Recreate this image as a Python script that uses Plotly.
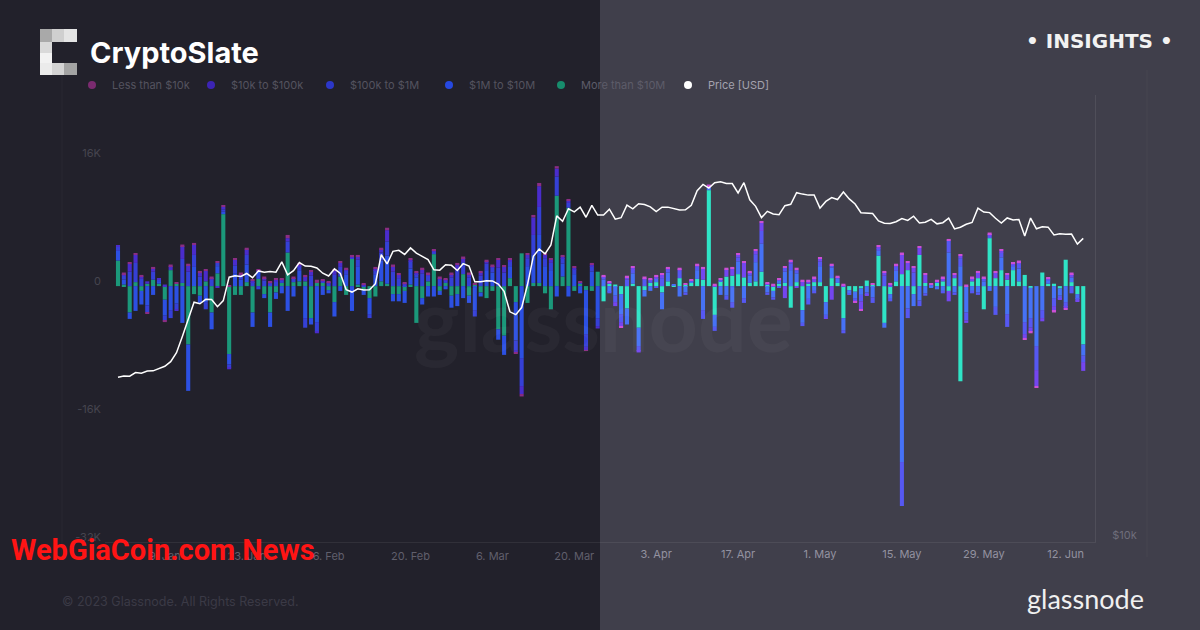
import plotly.graph_objects as go
import pandas as pd

# ---------------- data ----------------
start_date = "2023-01-01"
n_days = 166

# net position change by cohort, thousands of BTC (one value per day)
gt10m = [3.2, 0.2, -3.3, 0.5, -0.6, 0.3, 0.8, 0.3, -1.7, 2.0, 0.3, 0.4, -7.3, -1.0, -1.2, 0.6, -3.3, 1.6, 9.0, -8.5,
         -1.1, -1.1, 0.5, -3.3, 0.9, -1.0, -3.3, -0.8, 0.4, 4.2, 0.5, 0.6, 0.6, -4.0, 0.4, 0.4, -0.5, -2.0, 1.2, -1.1,
         3.4, 0.2, -0.5, -1.5, -1.3, 0.6, 0.3, -1.0, -1.0, -0.6, 0.2, -4.6, -1.5, 0.6, 4.0, -0.6, 0.4, -1.2, -1.0, 1.5,
         -1.2, 0.2, -0.8, -1.5, -0.6, -5.4, -6.2, 1.0, -2.0, 4.1, -2.1, 0.4, 0.4, -0.9, -2.9, 11.3, 1.2, 9.8, -0.6, 0.3,
         -0.5, -0.6, 1.8, -1.9, 0.3, 0.2, -1.0, -2.8, 0.3, -5.2, -0.5, 0.4, 0.5, -0.8, 0.6, 0.1, 1.0, 0.2, 0.4, 0.9,
         0.8, 12.0, -3.6, 0.6, 1.2, 1.3, 1.5, 1.1, 0.4, 0.6, 1.8, 0.2, -0.6, 0.3, 0.4, -2.7, 0.5, -3.0, 0.3, 0.5,
         0.5, -2.0, 1.0, 0.4, -4.0, -0.5, -0.7, -0.3, 0.7, 0.2, 3.8, -4.6, -1.0, 0.6, 1.5, 2.0, -1.0, 3.9, 0.4, 0.1,
         0.4, 0.6, -0.6, 1.0, -11.9, 0.0, 0.6, 1.0, -2.9, 6.0, 1.0, 2.0, 0.8, 2.0, 0.6, 1.4, -0.2, 0.0, 1.7, 0.3,
         0.3, -0.3, 3.3, 0.5, -1.0, -7.3]
m1_10m = [1.2, 0.6, -0.8, -3.1, -1.7, -2.4, -1.1, 0.3, -2.0, -3.0, -2.2, -4.6, -5.8, 2.4, -0.9, -2.0, -2.1, 0.9, 0.3, -1.3,
          1.6, 0.8, 2.2, -1.8, 0.9, -0.5, -1.8, -0.8, -0.9, -3.1, -1.3, 1.3, -4.0, -0.8, -4.5, -1.1, -0.4, -1.8, -0.6, 1.4,
          -3.1, 2.2, -0.6, -2.0, 1.4, 2.6, 3.5, -0.9, -0.9, -1.5, 2.0, 1.1, -0.8, -1.3, -1.3, -0.5, -0.4, -1.5, -1.5, -1.5,
          -0.9, -3.0, -0.5, 2.0, 1.7, -1.3, -2.4, 1.5, -4.8, -9.0, 2.5, 3.5, 6.0, 2.5, 2.0, -1.3, 1.6, -1.3, 1.5, -0.9,
          -5.5, 1.8, -4.0, 0.8, -0.7, -1.2, -2.5, -2.0, 1.3, -2.3, -0.8, -0.6, 0.5, -2.1, 1.1, 0.1, -1.3, -0.8, 0.2, 1.1,
          -3.0, 0.3, -1.5, -1.1, -1.2, -2.0, 1.6, -1.5, 0.9, 2.4, 3.5, -0.8, -0.8, 0.4, 1.4, 2.0, 1.1, -1.6, -1.6, -0.6,
          2.0, -1.6, 1.3, 0.5, -1.5, -0.4, -0.8, -0.8, -0.8, -1.4, 0.6, -0.6, -0.6, 1.3, -22.0, -2.8, -1.5, -1.8, -0.9, -0.2,
          -0.4, -0.6, 4.2, -0.8, 2.5, -3.3, -0.6, -0.8, 0.6, -0.6, -2.6, 1.6, -3.5, 0.5, 1.6, -4.5, -3.8, -7.5, -3.0, 0.4,
          -1.5, -0.9, -2.0, 0.6, -0.6, -1.4]
k100_1m = [0.5, 0.5, 1.8, 2.4, 0.9, -0.9, 1.0, 0.2, -0.6, -1.0, -0.7, 3.0, 1.8, 1.5, 1.2, -0.9, 0.8, 0.4, 0.3, -0.4,
           1.0, 0.5, 1.2, 0.5, -0.4, 0.7, 0.3, 0.6, 0.3, 1.4, 0.4, 0.6, -1.2, 1.3, -1.2, 0.2, 0.3, 1.4, 1.2, 0.5,
           0.2, 0.9, 0.1, -0.5, 0.6, 1.0, 1.8, 1.8, 1.0, 0.2, 0.9, 0.4, 1.6, 0.7, 0.3, 0.8, 0.3, 1.1, 2.0, 1.5,
           1.1, -0.8, 1.3, 0.8, 0.6, 2.3, 1.7, 0.6, -1.2, -3.5, 1.0, 2.5, 3.5, 1.0, 0.9, 2.4, 0.7, 0.6, 0.6, 0.2,
           -1.6, 0.7, -1.0, 0.3, -0.2, -0.8, -1.0, 0.8, 0.5, -0.6, 0.8, 0.3, -0.2, 1.0, 0.4, 0.0, 0.9, -0.3, 0.1, 0.4,
           -1.1, 0.1, -0.5, 0.2, -0.5, -0.7, 0.5, -0.6, 0.3, 1.0, 1.6, -0.3, -0.3, -0.2, 0.5, 0.8, 0.4, -0.4, -0.7, -0.3,
           0.6, -0.4, 0.3, 0.2, -0.4, -0.2, -0.3, -0.8, -0.3, -0.7, 0.3, 1.3, -0.3, 0.5, -5.5, -1.2, 1.7, -0.7, -0.3, 0.1,
           0.2, -0.3, 1.5, -0.3, 1.0, -1.0, -0.3, -0.3, 0.3, 0.3, -1.0, 0.6, -1.6, 0.2, 0.6, -1.5, -1.2, -3.0, -1.0, 0.1,
           -1.0, -0.4, -0.6, -0.9, -0.2, -0.8]
k10_100k = [0.2, 0.2, 1.0, 1.0, 0.3, 0.3, 0.4, 0.1, 0.2, 0.5, -0.2, 1.6, 0.8, 1.3, 0.5, 1.3, 0.2, -0.2, 0.3, -0.2,
            0.7, 0.2, 0.7, 0.2, 0.1, 0.3, 0.2, 0.2, 0.1, 0.4, 0.1, 0.2, 0.6, 0.5, -0.2, 0.1, 0.1, 0.5, 0.5, 0.2,
            0.1, 0.4, 0.1, 0.0, 0.2, 0.4, 1.4, 0.7, 0.4, 0.1, 0.2, 0.2, 0.5, 0.2, 0.1, 0.2, 0.1, 0.4, 0.7, 0.5,
            0.4, 0.0, 0.4, 0.3, 0.2, 1.0, 0.7, 0.2, -0.3, -1.0, 0.4, 2.2, 2.6, 0.4, 0.4, 1.0, 0.2, 0.3, 0.2, 0.0,
            -0.4, 0.2, -0.3, 0.1, 0.1, -0.5, -0.5, 0.3, 0.2, -0.2, 0.2, 0.1, 0.2, 0.4, 0.1, 0.0, 0.2, 0.0, 0.0, 0.2,
            1.4, 0.1, 0.1, 0.0, 0.9, 0.9, 0.3, 1.8, 0.1, 0.4, 1.0, 0.1, 0.1, 0.1, -1.5, 0.3, -0.2, 0.6, 0.3, 0.5,
            0.3, -0.1, -1.7, 0.0, 0.1, 0.0, -0.1, -1.0, -0.1, 0.0, 0.2, 0.4, 0.2, 0.2, 2.5, 0.9, 0.6, 0.9, 1.0, 0.0,
            0.0, 0.4, -1.3, 0.4, 0.3, -0.3, 0.4, 0.7, 0.1, 0.2, 0.7, 0.2, 0.6, 0.1, 0.2, -0.5, -0.5, -2.0, -0.4, 0.1,
            -0.6, -0.1, -0.2, 0.4, -0.1, -1.1]
lt10k = [0.0, 0.2, 0.2, 0.2, 0.2, -0.1, 0.2, 0.0, -0.2, 0.2, 0.2, 0.2, 0.2, 0.2, 0.2, 0.2, 0.2, 0.2, 0.2, 0.1,
         0.2, 0.2, 0.2, 0.1, 0.2, 0.2, 0.1, 0.2, 0.2, 0.4, 0.2, 0.2, 0.2, 0.2, 0.4, 0.1, 0.2, 0.2, 0.2, 0.2,
         0.2, 0.2, 0.1, 0.0, 0.2, 0.2, 0.3, 0.2, 0.2, 0.1, 0.2, 0.2, 0.2, 0.2, 0.2, 0.2, 0.2, 0.2, 0.2, 0.2,
         0.2, 0.1, 0.2, 0.2, 0.2, 0.2, 0.2, 0.2, -0.1, -0.3, 0.2, 0.3, 0.4, 0.2, 0.2, 0.3, 0.2, 0.2, 0.2, 0.1,
         -0.1, 0.2, 0.0, 0.2, 0.2, 0.0, -0.2, 0.2, 0.2, 0.0, 0.2, 0.2, 0.2, 0.2, 0.2, 0.0, 0.2, 0.1, 0.1, 0.2,
         0.2, 0.2, 0.2, 0.2, 0.2, 0.2, 0.2, 0.2, 0.2, 0.2, 0.2, 0.1, 0.2, 0.2, 0.2, 0.2, 0.3, 0.2, 0.2, 0.2,
         0.2, 0.0, 0.2, 0.2, 0.2, 0.0, -0.2, -0.2, 0.0, 0.1, 0.2, 0.2, 0.2, 0.2, 0.2, 0.2, 0.2, 0.2, 0.2, 0.1,
         0.2, 0.2, 0.2, 0.2, 0.2, 0.2, 0.2, 0.2, 0.2, 0.2, 0.2, 0.2, 0.2, 0.2, 0.2, -0.2, -0.2, -0.2, 0.0, 0.2,
         -0.2, 0.0, -0.1, 0.2, 0.0, 0.0]

# BTC price, USD (daily)
price = [16625, 16688, 16680, 16863, 16836, 16951, 16955, 17091, 17196, 17446, 17934, 18869, 19910, 20976, 20880, 21170,
         21161, 20688, 21086, 22676, 22777, 22720, 22934, 22636, 23117, 23032, 23078, 23031, 23774, 22840, 23139,
         23723, 23471, 23449, 23331, 22955, 22760, 23264, 22939, 21819, 21651, 21870, 21788, 21808, 22220, 24307,
         23623, 24566, 24641, 24328, 24830, 24437, 24189, 23947, 23198, 23175, 23562, 23522, 23147,
         23646, 23475, 22362, 22354, 22430, 22410, 22197, 21705, 20363, 20187, 20633, 22163, 24197, 24747, 24376,
         25052, 27423, 26965, 28038, 27768, 28176, 27307, 28334, 27493, 27494, 27994, 27139, 27268, 28348, 28033, 28478,
         28411, 28199, 27790, 28168, 28177, 28044, 27925, 27947, 28333, 29653, 30235, 29892, 30400, 30485, 30318,
         30316, 29446, 30397, 28823, 28245, 27276, 27817, 27591, 27525, 28307, 28422, 29473, 29340, 29248, 29268,
         28091, 28680, 29031, 28848, 29534, 28905, 28454, 27695, 27654, 27621, 27000, 26804, 26784, 26930, 27192,
         27036, 27398, 26833, 26890, 27129, 26753, 26851, 27226, 26334, 26476, 26720, 26868, 28085, 27746, 27702, 27219,
         26819, 27249, 27075, 27119, 25761, 27238, 26346, 26508, 26481, 25851, 25940, 25902, 25918, 25125, 25577]

cohort_names = ["Less than $10k", "$10k to $100k", "$100k to $1M", "$1M to $10M", "More than $10M"]
price_name = "Price [USD]"

y_tick_vals = [16, 0, -16, -32]
y_tick_text = ["16K", "0", "-16K", "-32K"]
price_tick_vals = [10000]
price_tick_text = ["$10k"]
x_tick_dates = ["2023-01-09", "2023-01-23", "2023-02-06", "2023-02-20", "2023-03-06", "2023-03-20",
                "2023-04-03", "2023-04-17", "2023-05-01", "2023-05-15", "2023-05-29", "2023-06-12"]

# ---------------- styling ----------------
W, H = 1200, 630
L, R, T, B = 105, 1095, 95, 542          # plot area in pixels
BG_LEFT, BG_RIGHT = "#22212b", "#403f4b"

# colours for (lt10k, 10k-100k, 100k-1M, 1M-10M, >10M)
pal_left = ["#8a2d84", "#4a2ccc", "#3540d6", "#2c50e2", "#1b987a"]
pal_right = ["#cc4fd6", "#7446f0", "#5658f2", "#4672f6", "#2fe4c6"]
legend_cols = ["#7b2b70", "#3c24b4", "#2c37c8", "#2648e0", "#178c6c"]


def px(x):
    return (x - L) / (R - L)


def py(y):
    return (B - y) / (B - T)


dates = pd.date_range(start_date, periods=n_days, freq="D")
day = pd.Timedelta(days=1)
x_start = dates[0] - 2.222 * day
x_end = dates[0] + 167.01 * day
split = x_start + (x_end - x_start) * 0.5

x_ticks = pd.to_datetime(x_tick_dates)
left_ticks = [t for t in x_ticks if t < split]
right_ticks = [t for t in x_ticks if t >= split]

fig = go.Figure()

fig.add_trace(go.Scatter(x=dates, y=price, xaxis="x2", yaxis="y2", mode="lines",
                         line=dict(color="#ffffff", width=1.5), showlegend=False, name=price_name))

series = [gt10m, m1_10m, k100_1m, k10_100k, lt10k]
idx = [4, 3, 2, 1, 0]   # stacking order: largest cohort nearest zero
for s, i in zip(series, idx):
    cols = [pal_left[i] if d < split else pal_right[i] for d in dates]
    fig.add_trace(go.Bar(x=dates, y=s, name=cohort_names[i], marker=dict(color=cols, line=dict(width=0)),
                         showlegend=False))

# legend entries (dots): first four in legend, last cohort in legend2, price in legend3
legend_ids = ["legend", "legend", "legend", "legend", "legend2"]
for i, nm in enumerate(cohort_names):
    fig.add_trace(go.Scatter(x=[None], y=[None], mode="markers", name=nm, legend=legend_ids[i],
                             marker=dict(size=8, color=legend_cols[i]), legendrank=i + 1))
fig.add_trace(go.Scatter(x=[None], y=[None], mode="markers", name=price_name, legend="legend3",
                         marker=dict(size=8, color="#ffffff")))

shapes = [
    dict(type="rect", xref="paper", yref="paper", x0=0.5, x1=1.3, y0=-0.3, y1=1.3,
         fillcolor=BG_RIGHT, line=dict(width=0), layer="below"),
    dict(type="line", xref="paper", yref="paper", x0=px(62), x1=px(62), y0=py(70), y1=py(557),
         line=dict(color="rgba(255,255,255,0.03)", width=1), layer="below"),
    dict(type="line", xref="paper", yref="paper", x0=px(1147), x1=px(1147), y0=py(70), y1=py(557),
         line=dict(color="rgba(255,255,255,0.03)", width=1), layer="below"),
]
# pixelated CryptoSlate "C" mark
logo_cells = [
    (40, 29, 52, 42, "#a9a9a9"), (52, 29, 64, 42, "#cfcfcf"), (64, 29, 77, 42, "#e4e4e4"),
    (40, 42, 52, 53, "#d9d9d9"), (40, 53, 52, 63, "#f2f2f2"),
    (40, 63, 52, 75, "#ebebeb"), (52, 63, 64, 75, "#d3d3d3"), (64, 63, 77, 75, "#a3a3a3"),
]
for x0, y0, x1, y1, c in logo_cells:
    shapes.append(dict(type="rect", xref="paper", yref="paper", x0=px(x0), x1=px(x1), y0=py(y1), y1=py(y0),
                       fillcolor=c, line=dict(width=0), layer="above"))


def note(text, x, y, xanchor, font):
    return dict(text=text, xref="paper", yref="paper", x=px(x), y=py(y), xanchor=xanchor, yanchor="middle",
                showarrow=False, font=font)


annotations = [
    note("CryptoSlate", 88, 53, "left", dict(family="Inter", size=29, color="#ffffff", weight=700)),
    note("• INSIGHTS •", 1024, 41, "left", dict(family="DejaVu Sans", size=20, color="#f2f2f2", weight=700)),
    note("glassnode", 1085, 598, "center", dict(family="Lato", size=27, color="#f0f0f0")),
    note("© 2023 Glassnode. All Rights Reserved.", 60, 601, "left",
         dict(family="Inter", size=12.5, color="#3b3a46")),
    note("glassnode", 603, 318, "center", dict(family="Lato", size=86, color="rgba(255,255,255,0.035)", weight=700)),
    note("WebGiaCoin.com News", 9, 550, "left",
         dict(family="Roboto", size=29, color="#ff1414", weight=700)),
]

axis_font = dict(family="Inter", size=11)
leg_common = dict(orientation="h", xanchor="left", yanchor="middle", bgcolor="rgba(0,0,0,0)",
                  itemclick=False, itemdoubleclick=False)
fig.update_layout(
    width=W, height=H, autosize=False,
    margin=dict(l=L, r=W - R, t=T, b=H - B),
    paper_bgcolor=BG_LEFT, plot_bgcolor="rgba(0,0,0,0)",
    barmode="relative", bargap=0.3,
    shapes=shapes, annotations=annotations,
    legend=dict(leg_common, x=px(72), y=py(85), font=dict(family="Inter", size=11, color="#54535f"),
                entrywidth=74, entrywidthmode="pixels"),
    legend2=dict(leg_common, x=px(541), y=py(85), font=dict(family="Inter", size=11, color="#5d5c69")),
    legend3=dict(leg_common, x=px(668), y=py(85), font=dict(family="Inter", size=11, color="#a3a2ae")),
    xaxis=dict(type="date", range=[x_start, x_end], tickmode="array", tickvals=left_ticks,
               tickformat="%-d. %b", tickfont=dict(axis_font, color="#605f6c"), showgrid=False,
               zeroline=False, showline=True, linecolor="rgba(255,255,255,0.07)", ticks="",
               ticklabelstandoff=4),
    xaxis2=dict(type="date", overlaying="x", matches="x", anchor="y2", side="bottom", range=[x_start, x_end],
                tickmode="array", tickvals=right_ticks, tickformat="%-d. %b",
                tickfont=dict(axis_font, color="#9392a0"), showgrid=False, zeroline=False,
                showline=False, ticks="", ticklabelstandoff=4),
    yaxis=dict(range=[-32, 23.9], tickmode="array", tickvals=y_tick_vals, ticktext=y_tick_text,
               tickfont=dict(axis_font, color="#46454f"), showgrid=False, zeroline=False, ticks="",
               ticklabelshift=-5, ticklabelstandoff=3),
    yaxis2=dict(overlaying="y", side="right", type="log", range=[3.9987, 4.601], tickmode="array",
                tickvals=price_tick_vals, ticktext=price_tick_text, tickfont=dict(axis_font, color="#6f6e7b"),
                showgrid=False, zeroline=False, showline=True, linecolor="rgba(255,255,255,0.08)", ticks="",
                ticklabelshift=-6, ticklabelstandoff=14),
)

fig.write_html("out.html", config={"displayModeBar": False},
               post_script="document.body.style.margin='0px';")
